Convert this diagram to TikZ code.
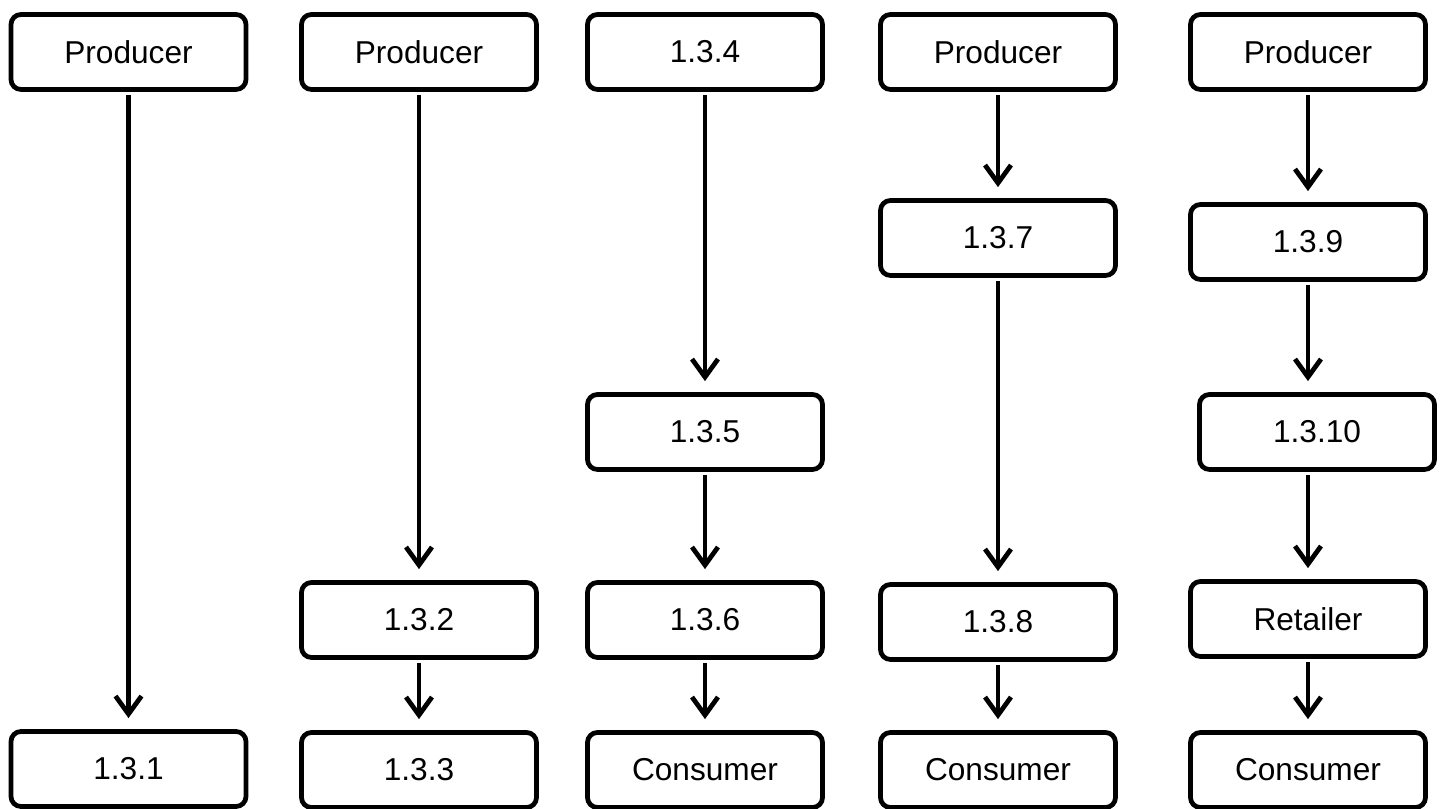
\documentclass[tikz,border=0pt]{standalone}
\usepackage{fontspec}
\setmainfont{Liberation Sans}
\usetikzlibrary{arrows.meta}
\tikzset{
    every node/.style={
        font=\fontsize{9}{11}\selectfont},
    box/.style={
        draw,
        rounded corners=1mm,
        line width=1.35pt,
        minimum width=2.35cm,
        minimum height=0.75cm},
    every edge/.style={
        draw,
        -{Straight Barb[length=1.8mm,width=2.6mm]},
        line width=1.35pt,
        shorten >=1.1mm,
        shorten <=0.3mm}}

\begin{document}
\begin{tikzpicture}
        \useasboundingbox (0,0) rectangle (14.45,8.09);

        \node[box] (p1) at (1.285,7.57) {Producer};
        \node[box] (c1) at (1.285,0.40) {1.3.1};

        \node[box] (p2) at (4.19,7.57) {Producer};
        \node[box] (c2) at (4.19,1.89) {1.3.2};
        \node[box] (c3) at (4.19,0.39) {1.3.3};

        \node[box] (c4) at (7.05,7.57) {1.3.4};
        \node[box] (c5) at (7.05,3.77) {1.3.5};
        \node[box] (c6) at (7.05,1.89) {1.3.6};
        \node[box] (k3) at (7.05,0.39) {Consumer};

        \node[box] (p4) at (9.98,7.57) {Producer};
        \node[box] (c7) at (9.98,5.71) {1.3.7};
        \node[box] (c8) at (9.98,1.87) {1.3.8};
        \node[box] (k4) at (9.98,0.39) {Consumer};

        \node[box] (p5) at (13.08,7.57) {Producer};
        \node[box] (c9) at (13.08,5.67) {1.3.9};
        \node[box] (c10) at (13.17,3.77) {1.3.10};
        \node[box] (ret) at (13.08,1.90) {Retailer};
        \node[box] (k5) at (13.08,0.39) {Consumer};

        \draw (p1) edge (c1);

        \draw (p2) edge (c2);
        \draw (c2) edge (c3);

        \draw (c4) edge (c5);
        \draw (c5) edge (c6);
        \draw (c6) edge (k3);

        \draw (p4) edge (c7);
        \draw (c7) edge (c8);
        \draw (c8) edge (k4);

        \draw (p5) edge (c9);
        \draw (c9) edge (c9 |- c10.north);
        \draw (c10.south -| ret) edge (ret);
        \draw (ret) edge (k5);
    \end{tikzpicture}
\end{document}
